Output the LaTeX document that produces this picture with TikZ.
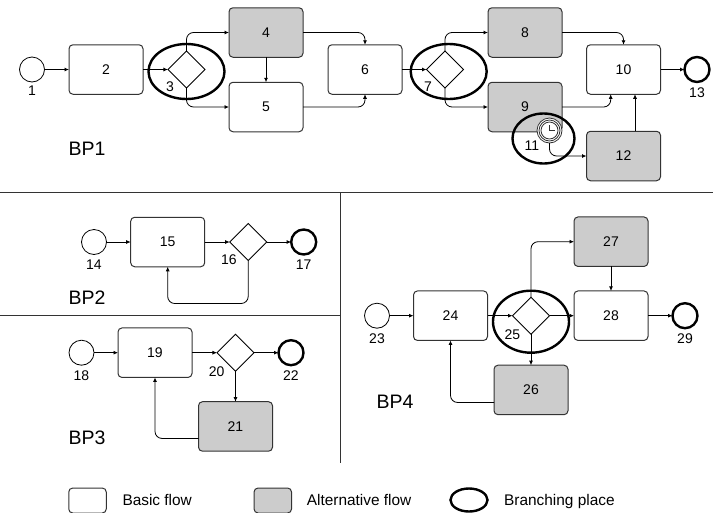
\documentclass[tikz,border=0pt]{standalone}
\usepackage{fontspec}
\setsansfont{Liberation Sans}
\usepackage{tikz}
\usetikzlibrary{arrows.meta,positioning,shapes.geometric,calc}
\definecolor{linegrey}{HTML}{333333}
\definecolor{altgrey}{HTML}{CCCCCC}

\begin{document}
\begin{tikzpicture}[
	x=1pt,y=-1pt,
	node distance=25pt,
	taskbox/.style={draw=linegrey,line width=1pt,rounded corners=4pt,minimum width=74pt,minimum height=49.5pt,inner sep=0pt,outer sep=0pt,font=\fontsize{14}{16}\sffamily},
	altbox/.style={taskbox,fill=altgrey},
	gate/.style={draw=black,line width=0.8pt,diamond,aspect=1,minimum width=37pt,minimum height=37pt,inner sep=0pt,outer sep=0pt},
	startev/.style={draw=black,line width=0.8pt,circle,minimum size=25pt,inner sep=0pt,outer sep=0pt},
	endev/.style={draw=black,line width=2.4pt,circle,minimum size=25pt,inner sep=0pt,outer sep=0pt},
	num/.style={inner sep=0pt,font=\fontsize{14}{16}\sffamily},
	bpname/.style={inner sep=0pt,font=\fontsize{19.5}{22}\sffamily},
	legendtxt/.style={inner sep=0pt,anchor=base west,font=\fontsize{15.4}{18}\sffamily},
	branch/.style={draw=black,line width=2.4pt,ellipse,inner sep=0pt},
	arr/.style={-{Latex[length=4.5pt,width=4pt]},line width=0.8pt,rounded corners=7pt},
	sep/.style={draw=linegrey,line width=0.9pt}
	]
	\useasboundingbox (0,0) rectangle (713,512);
	% BP1
	\node[startev] (e1) at (32,69.5) {};
	\node[taskbox] (t2) [right=24.5pt of e1] {2};
	\node[gate] (g3) [right=of t2] {};
	\node[altbox] (t4) at (266,32.5) {4};
	\node[taskbox] (t5) [below=of t4] {5};
	\node[taskbox] (t6) at (365,69.5) {6};
	\node[gate] (g7) [right=24.5pt of t6] {};
	\node[altbox] (t8) at (525,32.5) {8};
	\node[altbox] (t9) [below=of t8] {9};
	\node[taskbox] (t10) at (623.5,69.5) {10};
	\node[endev] (e13) [right=24pt of t10] {};
	\node[altbox] (t12) [below=37pt of t10] {12};
	\node[num] (n1) [below=3.5pt of e1] {1};
	\node[num] (n3) at (170,87) {3};
	\node[num] (n7) at (428,87) {7};
	\node[num] (n11) at (532,146) {11};
	\node[num] (n13) [below=6pt of e13] {13};
	\node[bpname] (bp1) at (87,149) {BP1};
	\draw[arr] (e1) -- (t2);
	\draw[arr] (t2) -- (g3);
	\draw[arr] (g3.north) |- (t4.west);
	\draw[arr] (g3.south) |- (t5.west);
	\draw[arr] (t4) -- (t5);
	\draw[arr] (t4.east) -| (t6.north);
	\draw[arr] (t5.east) -| (t6.south);
	\draw[arr] (t6) -- (g7);
	\draw[arr] (g7.north) |- (t8.west);
	\draw[arr] (g7.south) |- (t9.west);
	\draw[arr] (t8.east) -| (t10.north);
	\draw[arr] (t9.east) -| ([xshift=-12.8pt]t10.south);
	\draw[arr] ([xshift=11.5pt]t12.north) -- ([xshift=11.5pt]t10.south);
	\draw[arr] (t10) -- (e13);
	\node[branch,minimum width=76pt,minimum height=55pt] (b3) at (186.5,71.5) {};
	\node[branch,minimum width=76pt,minimum height=55pt] (b7) at (448.7,71.5) {};
	\node[branch,minimum width=62pt,minimum height=50pt] (b11) at (543.5,138.5) {};
	% timer on the border of 9
	\node[circle,draw=linegrey,fill=white,line width=0.8pt,minimum size=25pt,inner sep=0pt,outer sep=0pt] (tm) at (549.5,130.5) {};
	\node[circle,draw=linegrey,line width=0.8pt,minimum size=21pt,inner sep=0pt] (tm2) at (tm) {};
	\node[circle,draw=linegrey,line width=0.8pt,minimum size=17pt,inner sep=0pt] (tm3) at (tm) {};
	\draw[line width=0.7pt,linegrey] ($(tm)+(0,-5.5)$) -- (tm.center) -- ($(tm)+(5.5,0)$);
	\draw[arr] (tm.south) |- (t12.west);
	% BP2
	\node[startev] (e14) at (94,242) {};
	\node[taskbox] (t15) [right=24.2pt of e14] {15};
	\node[gate] (g16) [right=of t15] {};
	\node[endev] (e17) [right=24.5pt of g16] {};
	\node[num] (n14) [below=5pt of e14] {14};
	\node[num] (n16) at (229,260) {16};
	\node[num] (n17) [below=5pt of e17] {17};
	\node[bpname] (bp2) at (87,298) {BP2};
	\draw[arr] (e14) -- (t15);
	\draw[arr] (t15) -- (g16);
	\draw[arr] (g16) -- (e17);
	\draw[arr] (g16.south) -- ++(0,43) -| (t15.south);
	% BP3
	\node[startev] (e18) at (81.5,352.7) {};
	\node[taskbox] (t19) [right=24pt of e18] {19};
	\node[gate] (g20) [right=of t19] {};
	\node[endev] (e22) [right=24.5pt of g20] {};
	\node[altbox] (t21) [below=30.5pt of g20] {21};
	\node[num] (n18) [below=5pt of e18] {18};
	\node[num] (n20) at (216.7,372) {20};
	\node[num] (n22) [below=5pt of e22] {22};
	\node[bpname] (bp3) at (87,438) {BP3};
	\draw[arr] (e18) -- (t19);
	\draw[arr] (t19) -- (g20);
	\draw[arr] (g20) -- (e22);
	\draw[arr] (g20) -- (t21);
	\draw[arr] ([yshift=-12pt]t21.west) -| (t19.south);
	% BP4
	\node[startev] (e23) at (377,315.7) {};
	\node[taskbox] (t24) [right=24pt of e23] {24};
	\node[gate] (g25) [right=of t24] {};
	\node[taskbox] (t28) [right=24.5pt of g25] {28};
	\node[endev] (e29) [right=24.5pt of t28] {};
	\node[altbox] (t27) [above=24.5pt of t28] {27};
	\node[altbox] (t26) [below=31pt of g25] {26};
	\node[num] (n23) [below=5pt of e23] {23};
	\node[num] (n25) at (512.3,335) {25};
	\node[num] (n29) [below=5pt of e29] {29};
	\node[bpname] (bp4) at (395,401.7) {BP4};
	\draw[arr] (e23) -- (t24);
	\draw[arr] (t24) -- (g25);
	\draw[arr] (g25) -- (t28);
	\draw[arr] (g25) -- (t26);
	\draw[arr] (g25.north) |- (t27.west);
	\draw[arr] (t27) -- (t28);
	\draw[arr] ([yshift=-12.5pt]t26.west) -| (t24.south);
	\draw[arr] (t28) -- (e29);
	\node[branch,minimum width=76pt,minimum height=62pt] (b25) at (531,321.7) {};
	% separators
	\draw[sep] (0,192) -- (713,192);
	\draw[sep] (0,315.7) -- (340,315.7);
	\draw[sep] (340,192) -- (340,463);
	% legend
	\node[taskbox,minimum width=37.5pt,minimum height=25pt] (lg1) at (87.5,500.5) {};
	\node[legendtxt] (lt1) at (122.3,505) {Basic flow};
	\node[altbox,minimum width=37.5pt,minimum height=25pt] (lg2) at (272.8,500.5) {};
	\node[legendtxt] (lt2) at (306.7,505) {Alternative flow};
	\node[branch,minimum width=37pt,minimum height=23pt] (lg3) at (469,500) {};
	\node[legendtxt] (lt3) at (504,505) {Branching place};
\end{tikzpicture}
\end{document}
